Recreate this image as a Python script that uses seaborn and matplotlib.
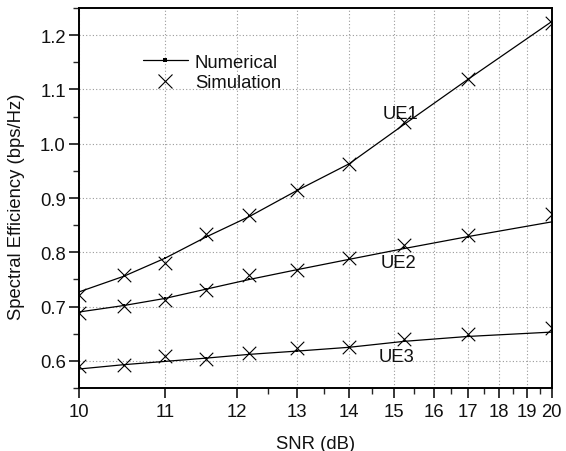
import numpy as np
import pandas as pd
import matplotlib
matplotlib.use("Agg")
import matplotlib.pyplot as plt
from matplotlib.lines import Line2D
from matplotlib.ticker import FixedLocator, NullFormatter
import seaborn as sns

# SNR points (dB)
snr = [10, 10.5, 11, 11.55, 12.2, 13, 14, 15.25, 17, 20]

# Numerical spectral efficiency (bps/Hz)
num_ue1 = [0.727, 0.756, 0.789, 0.828, 0.866, 0.914, 0.963, 1.036, 1.119, 1.225]
num_ue2 = [0.690, 0.702, 0.715, 0.732, 0.750, 0.768, 0.787, 0.807, 0.829, 0.856]
num_ue3 = [0.585, 0.593, 0.599, 0.605, 0.612, 0.618, 0.625, 0.636, 0.645, 0.653]

# Simulated spectral efficiency (bps/Hz)
sim_ue1 = [0.722, 0.758, 0.781, 0.834, 0.869, 0.914, 0.963, 1.040, 1.120, 1.222]
sim_ue2 = [0.689, 0.701, 0.712, 0.730, 0.759, 0.768, 0.790, 0.813, 0.831, 0.870]
sim_ue3 = [0.590, 0.593, 0.609, 0.603, 0.614, 0.623, 0.626, 0.641, 0.650, 0.661]

ue_names = ["UE1", "UE2", "UE3"]
x_ticks = [10, 11, 12, 13, 14, 15, 16, 17, 18, 19, 20]
x_minor = [12.5, 13.5, 14.5, 15.5, 16.5, 17.5, 18.5, 19.5]
y_ticks = [0.6, 0.7, 0.8, 0.9, 1.0, 1.1, 1.2]

num_df = pd.DataFrame({
    "snr": snr * 3,
    "se": num_ue1 + num_ue2 + num_ue3,
    "ue": [u for u in ue_names for _ in snr],
})
sim_df = pd.DataFrame({
    "snr": snr * 3,
    "se": sim_ue1 + sim_ue2 + sim_ue3,
    "ue": [u for u in ue_names for _ in snr],
})

sns.set_style("ticks")
plt.rcParams["font.family"] = ["Liberation Sans", "DejaVu Sans"]
plt.rcParams["font.size"] = 13.3
plt.rcParams["text.color"] = "#111111"
plt.rcParams["axes.labelcolor"] = "#111111"
fs = 13.3

fig = plt.figure(figsize=(5.66, 4.52), dpi=100)
ax = fig.add_axes([79 / 566, 63 / 452, 472.7 / 566, 380 / 452])


def _fwd(x):
    x = np.asarray(x, dtype=float)
    with np.errstate(divide="ignore", invalid="ignore"):
        return -1.0 / x


def _inv(y):
    y = np.asarray(y, dtype=float)
    with np.errstate(divide="ignore", invalid="ignore"):
        return -1.0 / y


# reciprocal x scale
ax.set_xscale("function", functions=(_fwd, _inv))

for ue in ue_names:
    sns.lineplot(data=num_df[num_df.ue == ue], x="snr", y="se", ax=ax,
                 color="black", linewidth=0.9, marker="s", markersize=1.8,
                 markeredgewidth=0, legend=False, zorder=3)
    sns.scatterplot(data=sim_df[sim_df.ue == ue], x="snr", y="se", ax=ax,
                    color="black", marker="x", s=95, linewidth=0.8,
                    legend=False, zorder=4)

ax.set_xlim(10, 20)
ax.set_ylim(0.55, 1.25)
ax.xaxis.set_major_locator(FixedLocator(x_ticks))
ax.xaxis.set_minor_locator(FixedLocator(x_minor))
ax.xaxis.set_minor_formatter(NullFormatter())
ax.set_xticklabels([str(t) for t in x_ticks])
ax.yaxis.set_major_locator(FixedLocator(y_ticks))
ax.yaxis.set_minor_locator(FixedLocator(np.arange(0.55, 1.251, 0.05)))
ax.set_yticklabels([f"{t:.1f}" for t in y_ticks])

ax.grid(True, which="major", linestyle=(0, (1, 2)), color="#9a9a9a",
        linewidth=0.8)
ax.set_axisbelow(True)

for s in ax.spines.values():
    s.set_visible(True)
    s.set_color("black")
    s.set_linewidth(1.4)

ax.tick_params(axis="both", which="major", direction="out", length=7,
               width=1.1, labelsize=fs, colors="black",
               labelcolor="#111111")
ax.tick_params(axis="both", which="minor", direction="out", length=4,
               width=1.0)
ax.tick_params(axis="x", which="major", pad=4)
ax.tick_params(axis="y", which="major", pad=2.5)

ax.set_xlabel("SNR (dB)", fontsize=fs)
ax.set_ylabel("Spectral Efficiency (bps/Hz)", fontsize=fs)
ax.xaxis.set_label_coords(0.5, -0.125)
ax.yaxis.set_label_coords(-0.115, 0.48)

# curve labels
ax.text(15.15, 1.048, "UE1", fontsize=fs, ha="center", va="baseline")
ax.text(15.11, 0.7725, "UE2", fontsize=fs, ha="center", va="baseline")
ax.text(15.05, 0.599, "UE3", fontsize=fs, ha="center", va="baseline")

handles = [
    Line2D([], [], color="black", linewidth=0.9, marker="s", markersize=2.2,
           markeredgewidth=0),
    Line2D([], [], color="black", linestyle="none", marker="x",
           markersize=9.7, markeredgewidth=0.8),
]
ax.legend(handles, ["Numerical", "Simulation"], loc="upper left",
          bbox_to_anchor=(0.1348, 0.88), frameon=False, fontsize=fs,
          handlelength=2.45, handletextpad=0.38, labelspacing=0.2,
          borderpad=0, borderaxespad=0)

fig.savefig("out.png", dpi=100)
